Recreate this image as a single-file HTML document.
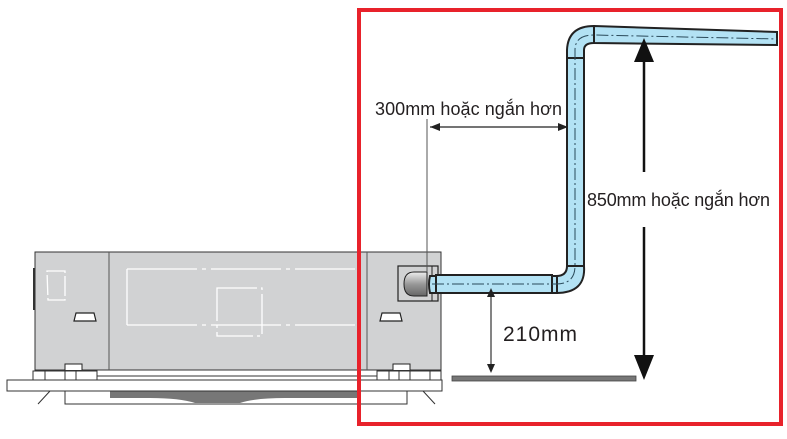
<!DOCTYPE html>
<html><head><meta charset="utf-8"><style>
html,body{margin:0;padding:0;background:#fff}
svg{display:block}
text{font-family:"Liberation Sans",sans-serif;fill:#231f20}
</style></head><body>
<svg width="787" height="439" viewBox="0 0 787 439" xmlns="http://www.w3.org/2000/svg">
<!-- panel -->
<rect x="65" y="390" width="342" height="14" fill="#fff" stroke="#333" stroke-width="1"/>
<path d="M110 390 H357 V398 H285 Q255 398 240 403 L195 403 Q180 398 150 398 H110 Z" fill="#777"/>
<rect x="7" y="380" width="435" height="11" fill="#fff" stroke="#333" stroke-width="1"/>
<line x1="50" y1="391" x2="38" y2="404" stroke="#333"/>
<line x1="423" y1="391" x2="435" y2="404" stroke="#333"/>
<!-- hanger rows -->
<rect x="33" y="371" width="64" height="9" fill="#fff" stroke="#333"/>
<line x1="45" y1="371" x2="45" y2="380" stroke="#333"/><line x1="65" y1="371" x2="65" y2="380" stroke="#333"/><line x1="76" y1="371" x2="76" y2="380" stroke="#333"/>
<rect x="377" y="371" width="64" height="9" fill="#fff" stroke="#333"/>
<line x1="389" y1="371" x2="389" y2="380" stroke="#333"/><line x1="399" y1="371" x2="399" y2="380" stroke="#333"/><line x1="410" y1="371" x2="410" y2="380" stroke="#333"/><line x1="430" y1="371" x2="430" y2="380" stroke="#333"/>
<line x1="97" y1="376" x2="377" y2="376" stroke="#333"/>
<!-- body -->
<rect x="35" y="252" width="406" height="118" fill="#d1d2d3" stroke="#333" stroke-width="1"/>
<line x1="109" y1="252" x2="109" y2="370" stroke="#555"/>
<line x1="367" y1="252" x2="367" y2="370" stroke="#555"/>
<rect x="33" y="268" width="2" height="42" fill="#333"/>
<g stroke="#fff" stroke-width="1.3" fill="none">
<path d="M47 271 H65 V300 H48 Z" stroke-dasharray="20 3"/>
<path d="M127 269 H355 M127 325 H355 M127 269 V325" stroke-dasharray="70 5 4 5"/>
<path d="M217 288 H262 V336 H217 Z" stroke-dasharray="40 4 3 4"/>
</g>
<path d="M74 321 L76 313 H94 L96 321 Z" fill="#fff" stroke="#222" stroke-width="1.2"/>
<path d="M380 321 L382 313 H400 L402 321 Z" fill="#fff" stroke="#222" stroke-width="1.2"/>
<path d="M65 370 V364 H82 V370" fill="#fff" stroke="#222"/>
<path d="M393 370 V364 H410 V370" fill="#fff" stroke="#222"/>
<!-- drain fitting -->
<rect x="398" y="266" width="40" height="35" fill="#d1d2d3" stroke="#222" stroke-width="1.2"/>
<line x1="432" y1="266" x2="432" y2="301" stroke="#222"/>
<defs><linearGradient id="g" x1="0" y1="0" x2="0" y2="1"><stop offset="0" stop-color="#eee"/><stop offset="0.5" stop-color="#999"/><stop offset="1" stop-color="#666"/></linearGradient></defs>
<path d="M427 272 H414 Q404 272 404 284 Q404 296 414 296 H427 Z" fill="url(#g)" stroke="#222"/>
<!-- 300mm dim -->
<line x1="427" y1="119" x2="427" y2="272" stroke="#555" stroke-width="1"/>
<line x1="430" y1="127" x2="568" y2="127" stroke="#222" stroke-width="1.2"/>
<path d="M430 127 L440 123 L440 131 Z" fill="#222"/>
<path d="M568 127 L558 123 L558 131 Z" fill="#222"/>
<text x="375" y="115" font-size="18" textLength="187">300mm hoặc ngắn hơn</text>
<!-- pipe -->
<g stroke="#222" stroke-width="2" fill="#b3e2f4">
<path d="M430 276 H436 V293 H430 Q428 284 430 276 Z"/>
<path d="M594 26 L777 32 L777 45 L594 43 Z"/>
<path d="M594 26 Q568 26 567 50 V60 H584 V50 Q584 43 594 43 Z"/>
<rect x="567" y="58" width="17" height="210"/>
<path d="M567 266 H584 Q586 293 556 293 V276 Q567 276 567 266 Z"/>
<rect x="436" y="275" width="116" height="18"/>
<rect x="552" y="276" width="5" height="17"/>
</g>
<g stroke="#2a4a5a" stroke-width="1" stroke-dasharray="12 3 2 3" fill="none">
<path d="M432 284 H556 Q575 284 575 266 V50 Q575 35 594 35 L777 39"/>
</g>
<!-- 850 dim -->
<line x1="644" y1="58" x2="644" y2="172" stroke="#111" stroke-width="2.5"/>
<path d="M644 38 L634 62 L654 62 Z" fill="#111"/>
<line x1="644" y1="227" x2="644" y2="358" stroke="#111" stroke-width="2.5"/>
<path d="M644 380 L634 355 L654 355 Z" fill="#111"/>
<text x="587" y="206" font-size="18" textLength="183">850mm hoặc ngắn hơn</text>
<!-- 210 dim -->
<line x1="491" y1="295" x2="491" y2="370" stroke="#333" stroke-width="1.2"/>
<path d="M491 288 L487 297 L495 297 Z" fill="#222"/>
<path d="M491 373 L487 364 L495 364 Z" fill="#222"/>
<text x="503" y="341" font-size="21" textLength="74">210mm</text>
<rect x="452" y="376" width="184" height="5" fill="#777" stroke="#444" stroke-width="0.8"/>
<!-- red frame -->
<rect x="359" y="10" width="422" height="414" fill="none" stroke="#e8222b" stroke-width="4"/>
</svg>
</body></html>
